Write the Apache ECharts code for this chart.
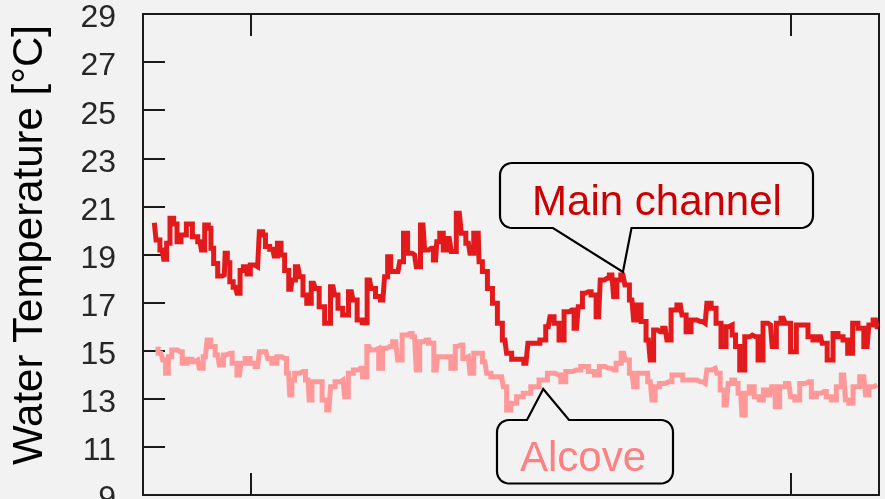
<!DOCTYPE html>
<html>
<head>
<meta charset="utf-8">
<script src="https://cdn.jsdelivr.net/npm/echarts@6/dist/echarts.min.js"></script>
<style>
  html, body { margin: 0; padding: 0; background: #f2f2f2; }
  #chart { width: 885px; height: 499px; }
</style>
</head>
<body>
<div id="chart"></div>
<script>
// Water temperature records, [day since start, °C]
const mainChannel = [
  [0.63,20.32],[0.82,19.60],[1.06,19.19],[1.24,18.80],[1.39,19.47],[1.61,20.51],[1.80,20.27],[1.98,19.53],[2.24,19.81],[2.58,20.27],
  [2.91,19.74],[3.17,19.53],[3.32,19.19],[3.54,20.23],[3.72,20.09],[3.83,19.26],[4.02,18.63],[4.28,18.11],[4.52,18.15],[4.61,19.05],
  [4.76,18.66],[4.89,17.87],[5.13,17.64],[5.32,17.39],[5.47,18.33],[5.69,18.49],[5.87,18.19],[6.06,18.56],[6.37,18.49],[6.56,19.95],
  [6.74,19.81],[6.87,19.33],[7.21,19.22],[7.36,18.94],[7.58,19.47],[7.76,18.98],[7.98,18.33],[8.22,17.55],[8.33,17.94],[8.61,18.49],
  [8.80,18.08],[8.98,17.32],[9.22,16.97],[9.48,17.80],[9.67,17.59],[9.91,16.83],[10.28,16.14],[10.56,17.66],[10.74,17.32],[10.93,16.76],
  [11.26,16.48],[11.58,17.45],[11.76,17.11],[12.04,16.28],[12.32,16.16],[12.59,17.94],[12.78,17.59],[13.06,17.25],[13.33,17.11],[13.52,18.08],
  [13.67,18.91],[13.86,18.29],[14.17,18.29],[14.36,18.70],[14.59,19.88],[14.82,19.05],[15.09,18.98],[15.28,18.49],[15.56,20.23],[15.74,19.19],
  [16.02,19.26],[16.26,18.77],[16.39,19.53],[16.59,19.88],[16.78,19.19],[17.02,19.67],[17.24,19.12],[17.58,20.71],[17.80,19.88],[18.08,19.47],
  [18.26,19.05],[18.50,19.88],[18.63,19.88],[18.72,18.70],[19.00,18.29],[19.28,17.59],[19.56,16.97],[19.83,16.14],[20.11,15.44],[20.30,14.89],
  [20.67,14.64],[21.04,14.64],[21.28,14.48],[21.50,15.31],[21.87,15.31],[22.24,15.44],[22.52,16.00],[22.71,16.41],[22.98,16.14],[23.26,15.44],
  [23.54,16.62],[23.82,16.69],[24.09,15.93],[24.28,16.83],[24.56,17.39],[24.76,17.45],[25.04,17.32],[25.32,16.41],[25.50,17.94],[25.78,18.01],
  [26.06,18.15],[26.24,17.25],[26.43,17.94],[26.67,18.15],[26.89,17.73],[27.17,17.11],[27.36,16.28],[27.54,16.90],[27.82,16.21],[28.09,15.44],
  [28.28,14.61],[28.47,15.86],[28.74,15.79],[29.02,15.93],[29.21,15.44],[29.48,16.69],[29.86,16.90],[30.04,16.48],[30.32,15.79],[30.59,16.28],
  [30.97,16.21],[31.24,16.14],[31.43,16.97],[31.71,16.76],[31.98,16.14],[32.26,15.17],[32.54,16.00],[32.65,16.07],[32.83,15.65],[33.02,15.17],
  [33.30,14.20],[33.58,15.58],[33.86,15.65],[34.04,15.58],[34.32,14.61],[34.59,16.14],[34.87,16.07],[35.06,15.17],[35.33,16.14],[35.58,16.35],
  [35.80,16.14],[36.17,14.96],[36.44,16.07],[36.82,16.07],[37.09,15.58],[37.37,15.44],[37.65,15.58],[37.83,15.31],[38.21,14.61],[38.48,15.72],
  [38.76,15.58],[39.04,15.44],[39.28,14.89],[39.59,16.14],[39.87,15.93],[40.24,15.17],[40.43,16.07],[40.71,16.28],[40.86,16.00]
];

const alcove = [
  [0.69,15.06],[1.00,14.89],[1.19,14.61],[1.32,14.06],[1.50,14.75],[1.69,15.03],[1.93,15.03],[2.06,14.96],[2.30,14.48],[2.58,14.64],
  [2.86,14.54],[3.04,14.61],[3.22,14.27],[3.47,14.75],[3.65,15.44],[3.87,15.17],[4.15,14.82],[4.33,14.41],[4.61,14.82],[4.83,14.89],
  [5.08,14.48],[5.36,13.99],[5.54,14.48],[5.82,14.68],[6.09,14.48],[6.37,14.34],[6.56,14.96],[6.83,14.96],[7.02,14.68],[7.30,14.48],
  [7.58,14.75],[7.86,14.68],[8.09,14.06],[8.22,13.16],[8.33,13.78],[8.52,14.06],[8.89,14.13],[9.17,13.78],[9.30,12.95],[9.48,13.71],
  [9.82,13.71],[10.09,12.95],[10.33,12.53],[10.52,13.50],[10.83,13.71],[11.11,13.78],[11.30,13.09],[11.52,14.06],[11.85,14.20],[12.08,14.27],
  [12.32,13.92],[12.56,15.17],[12.78,15.03],[13.00,15.10],[13.19,14.27],[13.43,15.10],[13.71,15.17],[14.04,15.37],[14.26,14.61],[14.54,15.65],
  [14.82,15.72],[15.09,15.58],[15.28,14.20],[15.47,15.37],[15.71,15.44],[16.02,15.31],[16.30,14.20],[16.44,14.75],[16.69,14.75],[16.97,14.75],
  [17.24,14.27],[17.47,15.17],[17.65,15.24],[17.89,14.68],[18.08,14.75],[18.26,14.06],[18.50,14.89],[18.72,14.89],[19.00,14.54],[19.19,14.06],
  [19.47,13.92],[19.65,13.92],[19.93,13.92],[20.11,13.50],[20.30,12.53],[20.58,12.81],[20.94,13.09],[21.32,13.23],[21.78,13.50],[22.24,13.78],
  [22.71,14.06],[23.08,13.99],[23.36,13.71],[23.63,14.13],[24.09,14.20],[24.56,14.34],[24.94,14.13],[25.22,13.99],[25.50,14.34],[25.87,14.27],
  [26.15,14.20],[26.43,14.48],[26.71,14.89],[26.89,14.61],[27.17,14.06],[27.36,13.50],[27.54,14.06],[27.91,14.06],[28.19,13.71],[28.37,12.95],
  [28.55,13.50],[28.83,13.64],[29.21,13.71],[29.58,13.99],[29.86,13.99],[30.13,13.78],[30.59,13.78],[30.97,13.71],[31.24,13.64],[31.43,14.20],
  [31.80,14.27],[31.98,14.06],[32.17,13.37],[32.41,12.74],[32.63,13.64],[32.82,13.78],[32.93,13.64],[33.21,13.23],[33.36,12.33],[33.58,13.23],
  [33.80,13.50],[34.13,13.09],[34.36,12.95],[34.59,13.37],[34.83,13.16],[35.02,13.50],[35.24,12.67],[35.52,13.50],[35.89,13.64],[36.08,13.09],
  [36.36,12.95],[36.63,13.64],[37.00,13.71],[37.28,13.09],[37.56,13.23],[37.83,13.30],[38.11,13.09],[38.39,12.95],[38.67,13.50],[38.94,13.99],
  [39.13,12.95],[39.32,12.81],[39.59,13.50],[40.06,13.92],[40.24,13.16],[40.43,13.50],[40.80,13.57]
];

// Axis settings
const dayRange = [0, 40.9];
const monthTicks = [6, 36];          // month boundaries (days)
const tempRange = [9, 29];
const tempStep = 2;

// Points the two callouts refer to
const mainCalloutPoint = [26.67, 18.15];
const alcoveCalloutPoint = [22.24, 13.78];

const FONT = '"Liberation Sans", Arial, Helvetica, sans-serif';
const BG = '#f2f2f2';
const INK = '#1a1a1a';

const chart = echarts.init(document.getElementById('chart'), null, { renderer: 'canvas' });

const frameLine = { color: INK, width: 2 };
const xAxisBase = {
  type: 'value',
  min: dayRange[0],
  max: dayRange[1],
  axisLine: { show: true, onZero: false, lineStyle: frameLine },
  axisTick: { show: true, inside: true, length: 22, customValues: monthTicks, lineStyle: frameLine },
  axisLabel: { show: false },
  splitLine: { show: false }
};

chart.setOption({
  animation: false,
  backgroundColor: BG,
  grid: {
    left: 143, right: 6, top: 14, bottom: 4,
    containLabel: false, outerBoundsMode: 'none',
    show: true, borderColor: INK, borderWidth: 2, backgroundColor: 'transparent'
  },
  xAxis: [
    Object.assign({ position: 'bottom' }, xAxisBase),
    Object.assign({ position: 'top' }, xAxisBase)
  ],
  yAxis: {
    type: 'value',
    min: tempRange[0],
    max: tempRange[1],
    interval: tempStep,
    axisLine: { show: true, lineStyle: frameLine },
    axisTick: { show: true, inside: true, length: 22, lineStyle: frameLine },
    axisLabel: {
      margin: 27,
      formatter: (v) => '{t|' + v + '}',
      rich: { t: { fontSize: 32, color: '#262626', fontFamily: FONT, padding: [9, 0, 0, 0] } }
    },
    splitLine: { show: false }
  },
  series: [
    {
      name: 'Alcove', type: 'line', xAxisIndex: 0, data: alcove,
      showSymbol: false, z: 2, step: 'middle',
      lineStyle: { color: '#ff9999', width: 5, join: 'miter' }
    },
    {
      name: 'Main channel', type: 'line', xAxisIndex: 0, data: mainChannel,
      showSymbol: false, z: 3, step: 'middle',
      lineStyle: { color: '#e31a1c', width: 5, join: 'miter' }
    }
  ]
});

// Rounded speech-bubble outline with a pointed tail on the top or bottom edge
function calloutPoints(x0, y0, x1, y1, r, tail) {
  const pts = [];
  const arc = (cx, cy, a0, a1) => {
    const n = 8;
    for (let i = 0; i <= n; i++) {
      const a = (a0 + (a1 - a0) * i / n) * Math.PI / 180;
      pts.push([cx + r * Math.cos(a), cy + r * Math.sin(a)]);
    }
  };
  arc(x0 + r, y0 + r, 180, 270);
  if (tail.side === 'top') {
    pts.push([tail.b0, y0], tail.tip, [tail.b1, y0]);
  }
  arc(x1 - r, y0 + r, 270, 360);
  arc(x1 - r, y1 - r, 0, 90);
  if (tail.side === 'bottom') {
    pts.push([tail.b1, y1], tail.tip, [tail.b0, y1]);
  }
  arc(x0 + r, y1 - r, 90, 180);
  return pts;
}

const toPx = (p) => chart.convertToPixel({ xAxisIndex: 0, yAxisIndex: 0 }, p);
const mainTip = toPx(mainCalloutPoint);
const alcoveTip = toPx(alcoveCalloutPoint);

chart.setOption({
  graphic: [
    {
      type: 'text', x: 30, y: 245, rotation: Math.PI / 2, z: 50,
      style: { text: 'Water Temperature [°C]', fill: '#000', font: '42px ' + FONT, align: 'center', verticalAlign: 'middle' }
    },
    {
      type: 'polygon', z: 60,
      shape: { points: calloutPoints(500, 163, 813, 228, 12, { side: 'bottom', b0: 553, b1: 631.5, tip: [mainTip[0], mainTip[1] - 3] }) },
      style: { fill: BG, stroke: '#000', lineWidth: 2.2, lineJoin: 'miter' }
    },
    {
      type: 'text', x: 657, y: 203, z: 61,
      style: { text: 'Main channel', fill: '#cc0000', font: '42px ' + FONT, align: 'center', verticalAlign: 'middle' }
    },
    {
      type: 'polygon', z: 60,
      shape: { points: calloutPoints(497, 420, 673, 483.5, 12, { side: 'top', b0: 527, b1: 569, tip: [alcoveTip[0], alcoveTip[1] + 9] }) },
      style: { fill: BG, stroke: '#000', lineWidth: 2.2, lineJoin: 'miter' }
    },
    {
      type: 'text', x: 583, y: 459, z: 61,
      style: { text: 'Alcove', fill: '#ff8080', font: '42px ' + FONT, align: 'center', verticalAlign: 'middle' }
    }
  ]
});
</script>
</body>
</html>
